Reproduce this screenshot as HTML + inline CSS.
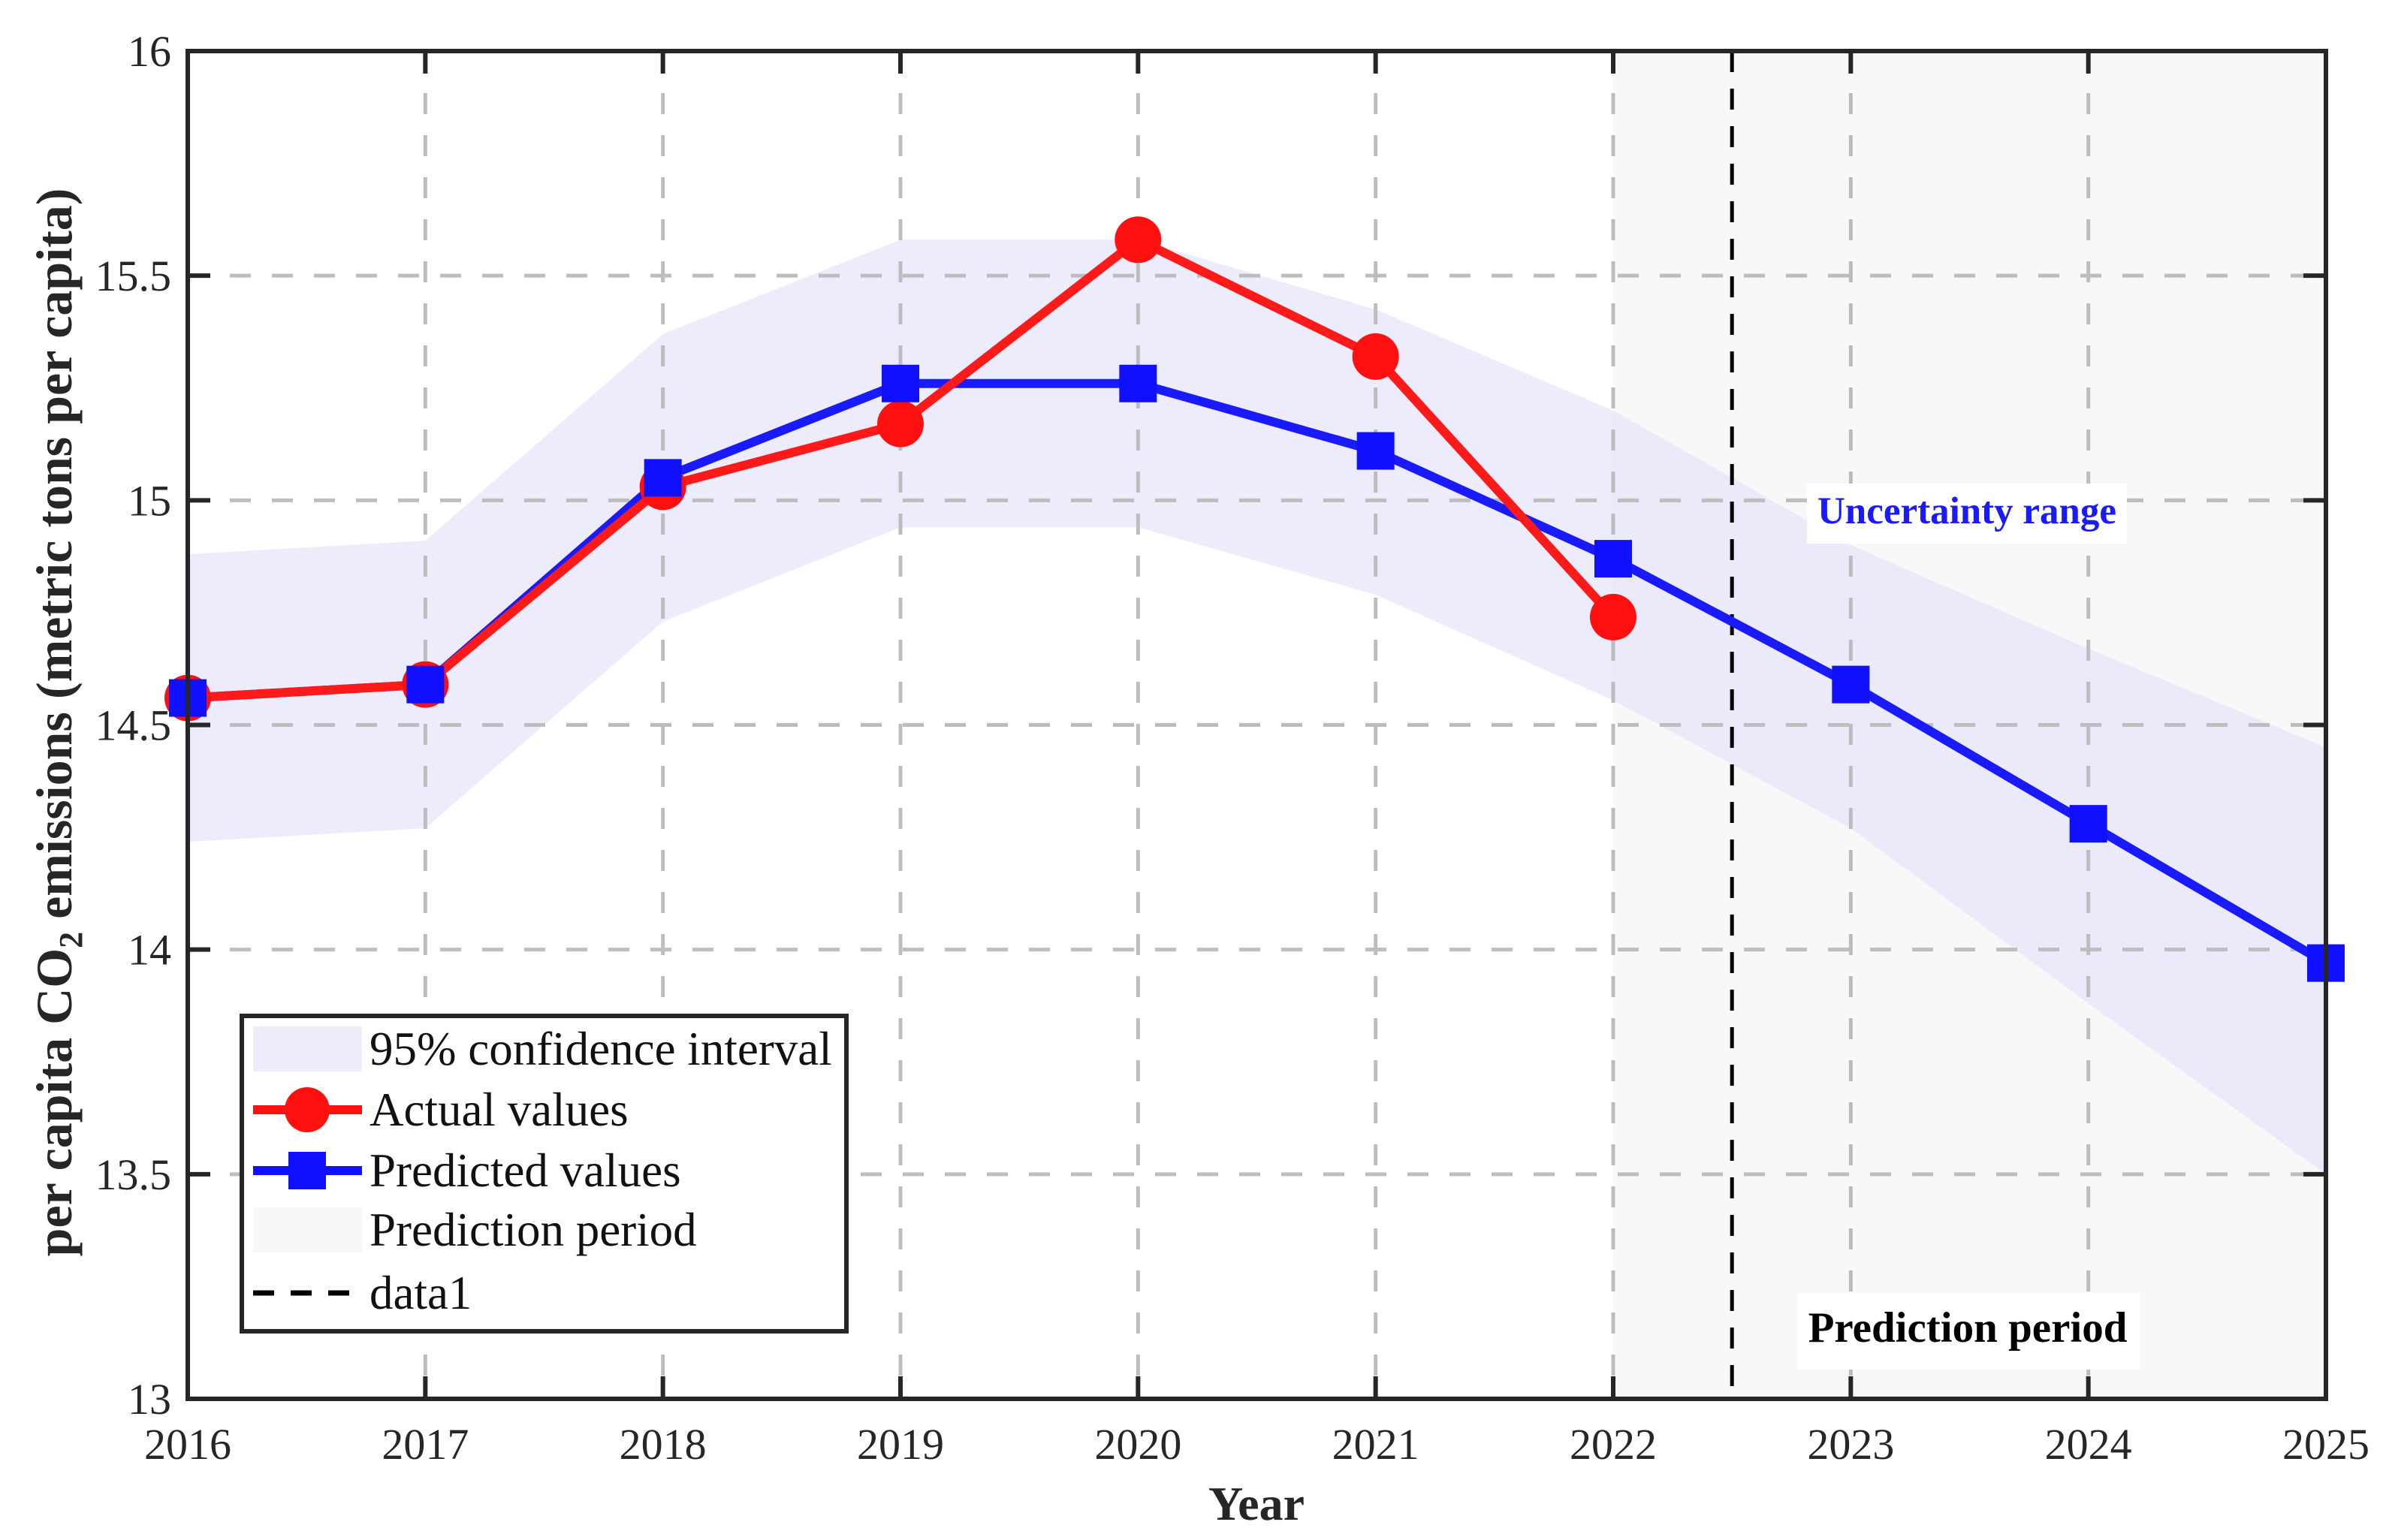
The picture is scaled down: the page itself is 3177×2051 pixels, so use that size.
<!DOCTYPE html>
<html><head><meta charset="utf-8"><style>
html,body{margin:0;padding:0;background:#fff;}
svg{display:block;}
text{font-family:"Liberation Serif",serif;}
</style></head><body>
<svg id="chart" width="3177" height="2051" viewBox="0 0 3177 2051" xmlns="http://www.w3.org/2000/svg"></svg>
<script>
const years=[2016,2017,2018,2019,2020,2021,2022,2023,2024,2025];
const actualYears=[2016,2017,2018,2019,2020,2021,2022];
const actualVals=[14.56,14.59,15.03,15.17,15.58,15.32,14.74];
const predVals=[14.56,14.59,15.05,15.26,15.26,15.11,14.87,14.59,14.28,13.97];
const ciUpper=[14.88,14.91,15.37,15.58,15.58,15.425,15.2,14.9,14.67,14.45];
const ciLower=[14.24,14.27,14.73,14.94,14.94,14.79,14.555,14.27,13.88,13.5];
const yTicks=[13,13.5,14,14.5,15,15.5,16];
const yTickLabels=["13","13.5","14","14.5","15","15.5","16"];
const predStart=2022, predEnd=2025, splitYear=2022.5;

const L=250,R=3097,T=68,B=1863;
const xMin=2016,xMax=2025,yMin=13,yMax=16;
const sx=v=>L+(v-xMin)/(xMax-xMin)*(R-L);
const sy=v=>B-(v-yMin)/(yMax-yMin)*(B-T);
const svg=document.getElementById('chart');
const NS='http://www.w3.org/2000/svg';
function mk(tag,attrs,parent){const e=document.createElementNS(NS,tag);for(const k in attrs)e.setAttribute(k,attrs[k]);(parent||svg).appendChild(e);return e;}

let e=mk('rect',{x:sx(predStart),y:T,width:sx(predEnd)-sx(predStart),height:B-T,fill:'#f8f8f8'});



let pts=years.map((y,i)=>sx(y)+','+sy(ciUpper[i]));
for(let i=years.length-1;i>=0;i--)pts.push(sx(years[i])+','+sy(ciLower[i]));
e=mk('polygon',{points:pts.join(' '),fill:'#e6e6fb',opacity:'0.75'});



const grid=mk('g',{stroke:'#bdbdbd','stroke-width':5,'stroke-dasharray':'28 28'});


years.forEach(y=>{if(y>xMin&&y<xMax)mk('line',{x1:sx(y),x2:sx(y),y1:T,y2:B},grid);});
yTicks.forEach(v=>{if(v>yMin&&v<yMax)mk('line',{x1:L,x2:R,y1:sy(v),y2:sy(v)},grid);});

const ticks=mk('g',{stroke:'#262626','stroke-width':6});


years.forEach(y=>{mk('line',{x1:sx(y),x2:sx(y),y1:T,y2:T+30},ticks);mk('line',{x1:sx(y),x2:sx(y),y1:B,y2:B-30},ticks);});
yTicks.forEach(v=>{mk('line',{x1:L,x2:L+30,y1:sy(v),y2:sy(v)},ticks);mk('line',{x1:R,x2:R-30,y1:sy(v),y2:sy(v)},ticks);});

e=mk('line',{x1:sx(splitYear),x2:sx(splitYear),y1:T,y2:B,stroke:'#000','stroke-width':5,'stroke-dasharray':'28 22'});



e=mk('rect',{x:2406,y:644,width:426,height:80,fill:'#fff'});


e=mk('text',{x:2619,y:697,'text-anchor':'middle','font-size':51,'font-weight':'bold',fill:'#1a1aff'});
e.textContent='Uncertainty range';


e=mk('rect',{x:2393,y:1722,width:456,height:102,fill:'#fff'});


e=mk('text',{x:2620,y:1787,'text-anchor':'middle','font-size':57,'font-weight':'bold',fill:'#000'});
e.textContent='Prediction period';



e=mk('polyline',{points:years.map((y,i)=>sx(y)+','+sy(predVals[i])).join(' '),fill:'none',stroke:'#1a1aff','stroke-width':12,'stroke-linejoin':'round'});


e=mk('polyline',{points:actualYears.map((y,i)=>sx(y)+','+sy(actualVals[i])).join(' '),fill:'none',stroke:'#ff1a1a','stroke-width':12,'stroke-linejoin':'round'});


actualYears.forEach((y,i)=>{
  const c=mk('circle',{cx:sx(y),cy:sy(actualVals[i]),r:31,fill:'#ff1010'});
  
  
});
years.forEach((y,i)=>{
  const s=mk('rect',{x:sx(y)-25,y:sy(predVals[i])-25,width:50,height:50,fill:'#1010ff'});
  
  
});

e=mk('rect',{x:L,y:T,width:R-L,height:B-T,fill:'none',stroke:'#262626','stroke-width':6});



years.forEach(y=>{
  const t=mk('text',{x:sx(y),y:B+80,'text-anchor':'middle','font-size':58,fill:'#262626'});
  t.textContent=String(y);
  
  
});
yTicks.forEach((v,i)=>{
  const t=mk('text',{x:L-22,y:sy(v)+20,'text-anchor':'end','font-size':58,fill:'#262626'});
  t.textContent=yTickLabels[i];
  
  
});

e=mk('text',{x:1673,y:2024,'text-anchor':'middle','font-size':64,'font-weight':'bold',fill:'#262626'});
e.textContent='Year';


e=mk('text',{x:0,y:0,'text-anchor':'middle','font-size':68,'font-weight':'bold',fill:'#262626',transform:'translate(95,962) rotate(-90)'});
e.innerHTML='per capita CO<tspan font-size="44" dy="14">2</tspan><tspan dy="-14"> emissions (metric tons per capita)</tspan>';



const lg=mk('g',{});


mk('rect',{x:322,y:1353,width:805,height:420,fill:'#fff',stroke:'#262626','stroke-width':6},lg);
const rows=[1397,1478,1559,1638,1722];
const labels=['95% confidence interval','Actual values','Predicted values','Prediction period','data1'];
mk('rect',{x:337,y:1367,width:145,height:60,fill:'#ededfc'},lg);
mk('line',{x1:337,x2:482,y1:rows[1],y2:rows[1],stroke:'#ff1010','stroke-width':12},lg);
mk('circle',{cx:409,cy:rows[1],r:30,fill:'#ff1010'},lg);
mk('line',{x1:337,x2:482,y1:rows[2],y2:rows[2],stroke:'#1010ff','stroke-width':12},lg);
mk('rect',{x:384,y:rows[2]-25,width:50,height:50,fill:'#1010ff'},lg);
mk('rect',{x:337,y:1608,width:145,height:60,fill:'#f8f8f8'},lg);
mk('line',{x1:337,x2:478,y1:rows[4],y2:rows[4],stroke:'#000','stroke-width':7,'stroke-dasharray':'28 22'},lg);
labels.forEach((s,i)=>{
  const t=mk('text',{x:492,y:rows[i]+21,'font-size':63,fill:'#111'},lg);
  t.textContent=s;
  
  
});
</script>
</body></html>
